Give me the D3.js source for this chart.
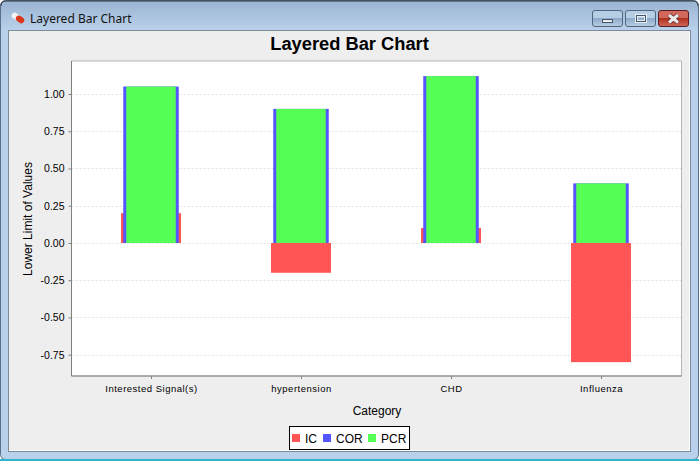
<!DOCTYPE html>
<html>
<head>
<meta charset="utf-8">
<title>Layered Bar Chart</title>
<script src="https://cdn.jsdelivr.net/npm/d3@7"></script>
<style>
  html, body { margin: 0; padding: 0; background: #fff; overflow: hidden; }
  text { font-family: "Liberation Sans", Arial, sans-serif; fill: #000; }
</style>
</head>
<body>
<div id="chart"></div>
<script>
const categories = ["Interested Signal(s)", "hypertension", "CHD", "Influenza"];
const seriesNames = ["IC", "COR", "PCR"];
const seriesColors = ["#ff5555", "#5555ff", "#55ff55"];
const icValues = [0.2, -0.2, 0.1, -0.8];
const corValues = [1.05, 0.9, 1.12, 0.4];
const pcrValues = [1.05, 0.9, 1.12, 0.4];
const yTicks = [-0.75, -0.5, -0.25, 0, 0.25, 0.5, 0.75, 1];

const W = 699, H = 461;
const plot = { left: 71.5, right: 681.5, top: 61, bottom: 376 };

const svg = d3.select("#chart").append("svg")
  .attr("width", W).attr("height", H)
  .style("display", "block");

// window chrome
const defs = svg.append("defs");
const frameGrad = defs.append("linearGradient").attr("id", "frame")
  .attr("x1", 0).attr("x2", 0).attr("y1", 0).attr("y2", 1);
frameGrad.append("stop").attr("offset", "0").attr("stop-color", "#9ab3d1");
frameGrad.append("stop").attr("offset", "0.065").attr("stop-color", "#b9d1ea");
frameGrad.append("stop").attr("offset", "1").attr("stop-color", "#b9d1ea");

function btnGrad(id, top, bottom) {
  const g = defs.append("linearGradient").attr("id", id)
    .attr("x1", 0).attr("x2", 0).attr("y1", 0).attr("y2", 1);
  g.append("stop").attr("offset", "0").attr("stop-color", top);
  g.append("stop").attr("offset", "0.5").attr("stop-color", top);
  g.append("stop").attr("offset", "0.5").attr("stop-color", bottom);
  g.append("stop").attr("offset", "1").attr("stop-color", top);
}
btnGrad("btn", "#b7cde3", "#8fabc9");
btnGrad("btnClose", "#d0695c", "#b0301f");

svg.append("rect").attr("x", 0.5).attr("y", 0.5).attr("width", W - 1).attr("height", H - 2)
  .attr("rx", 5).attr("fill", "url(#frame)").attr("stroke", "#5b7088");
svg.append("path").attr("d", `M1,6Q1,1 6,1H${W - 6}Q${W - 1},1 ${W - 1},6`)
  .attr("fill", "none").attr("stroke", "#2c3640");
svg.append("rect").attr("x", 8.5).attr("y", 30.5).attr("width", 682).attr("height", 421)
  .attr("fill", "#eeeeee").attr("stroke", "#7d8a99");
svg.append("path").attr("d", "M9.5,450.5H689.5V31.5").attr("fill", "none").attr("stroke", "#fff");
svg.append("rect").attr("x", 0).attr("y", 459).attr("width", W).attr("height", 2).attr("fill", "#2fb4d0");

// window title + icon
svg.append("g").attr("transform", "translate(18,18) rotate(35)").call(g => {
  g.append("rect").attr("x", -7).attr("y", -3).attr("width", 9).attr("height", 6).attr("rx", 3).attr("fill", "#f4f4f4");
  g.append("rect").attr("x", -2).attr("y", -3).attr("width", 9).attr("height", 6).attr("rx", 3).attr("fill", "#d9361a");
});
svg.append("text").attr("x", 30).attr("y", 23)
  .style("font-family", "'Noto Sans', sans-serif").style("font-size", "12px").style("fill", "#111")
  .text("Layered Bar Chart");

// window buttons
const buttons = [
  { x: 592.5, w: 30, fill: "url(#btn)", stroke: "#4f6580" },
  { x: 625.5, w: 30, fill: "url(#btn)", stroke: "#4f6580" },
  { x: 658.5, w: 30, fill: "url(#btnClose)", stroke: "#5a1e22" }
];
svg.selectAll(".winbtn").data(buttons).enter().append("rect")
  .attr("class", "winbtn")
  .attr("x", d => d.x).attr("y", 10.5).attr("width", d => d.w).attr("height", 16).attr("rx", 2.5)
  .attr("fill", d => d.fill).attr("stroke", d => d.stroke);
svg.append("rect").attr("x", 602.5).attr("y", 19.5).attr("width", 10).attr("height", 3)
  .attr("fill", "#e8edf2").attr("stroke", "#45566b");
svg.append("rect").attr("x", 636.5).attr("y", 15.5).attr("width", 9).attr("height", 6)
  .attr("fill", "none").attr("stroke", "#e8edf2").attr("stroke-width", 3);
svg.append("rect").attr("x", 636.5).attr("y", 15.5).attr("width", 9).attr("height", 6)
  .attr("fill", "none").attr("stroke", "#45566b").attr("stroke-width", 1);
const closeX = "M669,15L678,22.5M678,15L669,22.5";
svg.append("path").attr("d", closeX).attr("stroke", "#5a2a2a").attr("stroke-width", 4.5).attr("fill", "none");
svg.append("path").attr("d", closeX).attr("stroke", "#eeeaea").attr("stroke-width", 3).attr("fill", "none");

// chart title
svg.append("text").attr("x", 349.5).attr("y", 50).attr("text-anchor", "middle")
  .style("font-size", "18.3px").style("font-weight", "bold").text("Layered Bar Chart");

// scales
const y = d3.scaleLinear()
  .domain([-0.893, 1.2215])
  .range([plot.bottom, plot.top]);
const x = d3.scaleBand()
  .domain(categories)
  .range([plot.left + 5, plot.right - 5]);

// plot area
svg.append("rect")
  .attr("x", plot.left).attr("y", plot.top)
  .attr("width", plot.right - plot.left).attr("height", plot.bottom - plot.top)
  .attr("fill", "#fff");

// gridlines
svg.append("g").selectAll("line").data(yTicks).enter().append("line")
  .attr("x1", plot.left).attr("x2", plot.right)
  .attr("y1", d => Math.round(y(d)) + 0.5).attr("y2", d => Math.round(y(d)) + 0.5)
  .attr("stroke", "#e0e0e0").attr("stroke-dasharray", "2,2");

// layered bars, back to front, each one narrower
const layers = [
  { name: seriesNames[0], values: icValues, color: seriesColors[0], width: 0.4 },
  { name: seriesNames[1], values: corValues, color: seriesColors[1], width: 0.37 },
  { name: seriesNames[2], values: pcrValues, color: seriesColors[2], width: 0.33 }
];
layers.forEach(layer => {
  svg.append("g").attr("class", "series")
    .selectAll("rect").data(layer.values).enter().append("rect")
    .attr("x", (d, i) => x(categories[i]) + x.bandwidth() * (1 - layer.width) / 2 - 0.5)
    .attr("width", x.bandwidth() * layer.width)
    .attr("y", d => y(Math.max(d, 0)))
    .attr("height", d => Math.abs(y(d) - y(0)))
    .attr("fill", layer.color);
});

// axes, hyphen instead of d3's unicode minus
const yAxis = d3.axisLeft(y).tickValues(yTicks)
  .tickFormat(d => d3.format(".2f")(d).replace("\u2212", "-"))
  .tickSize(3).tickPadding(4);
const yG = svg.append("g").attr("transform", `translate(${plot.left},0)`).call(yAxis);
yG.selectAll("text").style("font-size", "10.5px").style("font-family", "'Liberation Sans', sans-serif");
yG.selectAll("line").attr("stroke", "#808080");
yG.select(".domain").remove();

const xAxis = d3.axisBottom(x).tickSize(3).tickPadding(6);
const xG = svg.append("g").attr("transform", `translate(0,${plot.bottom})`).call(xAxis);
xG.selectAll("text").style("font-size", "9.5px").style("letter-spacing", "0.5px")
  .style("font-family", "'Liberation Sans', sans-serif");
xG.selectAll("line").attr("stroke", "#808080");
xG.select(".domain").remove();

// plot border
svg.append("path")
  .attr("d", `M${plot.left},${plot.top}H${plot.right}V${plot.bottom}H${plot.left}Z`)
  .attr("fill", "none").attr("stroke", "#b4b4b4");
svg.append("path")
  .attr("d", `M${plot.left},${plot.top}V${plot.bottom}H${plot.right}`)
  .attr("fill", "none").attr("stroke", "#808080");

// axis titles
svg.append("text").attr("x", 377).attr("y", 415).attr("text-anchor", "middle")
  .style("font-size", "12px").text("Category");
svg.append("text").attr("transform", "translate(32,219) rotate(-90)").attr("text-anchor", "middle")
  .style("font-size", "12px").text("Lower Limit of Values");

// legend
const legend = svg.append("g");
legend.append("rect").attr("x", 289.5).attr("y", 426.5).attr("width", 120).attr("height", 23)
  .attr("fill", "#fff").attr("stroke", "#000");
const legendX = [292, 323, 368];
seriesNames.forEach((name, i) => {
  legend.append("rect").attr("x", legendX[i]).attr("y", 434).attr("width", 8).attr("height", 8).attr("fill", seriesColors[i]);
  legend.append("text").attr("x", legendX[i] + 13).attr("y", 442.5).style("font-size", "12px").text(name);
});
</script>
</body>
</html>
